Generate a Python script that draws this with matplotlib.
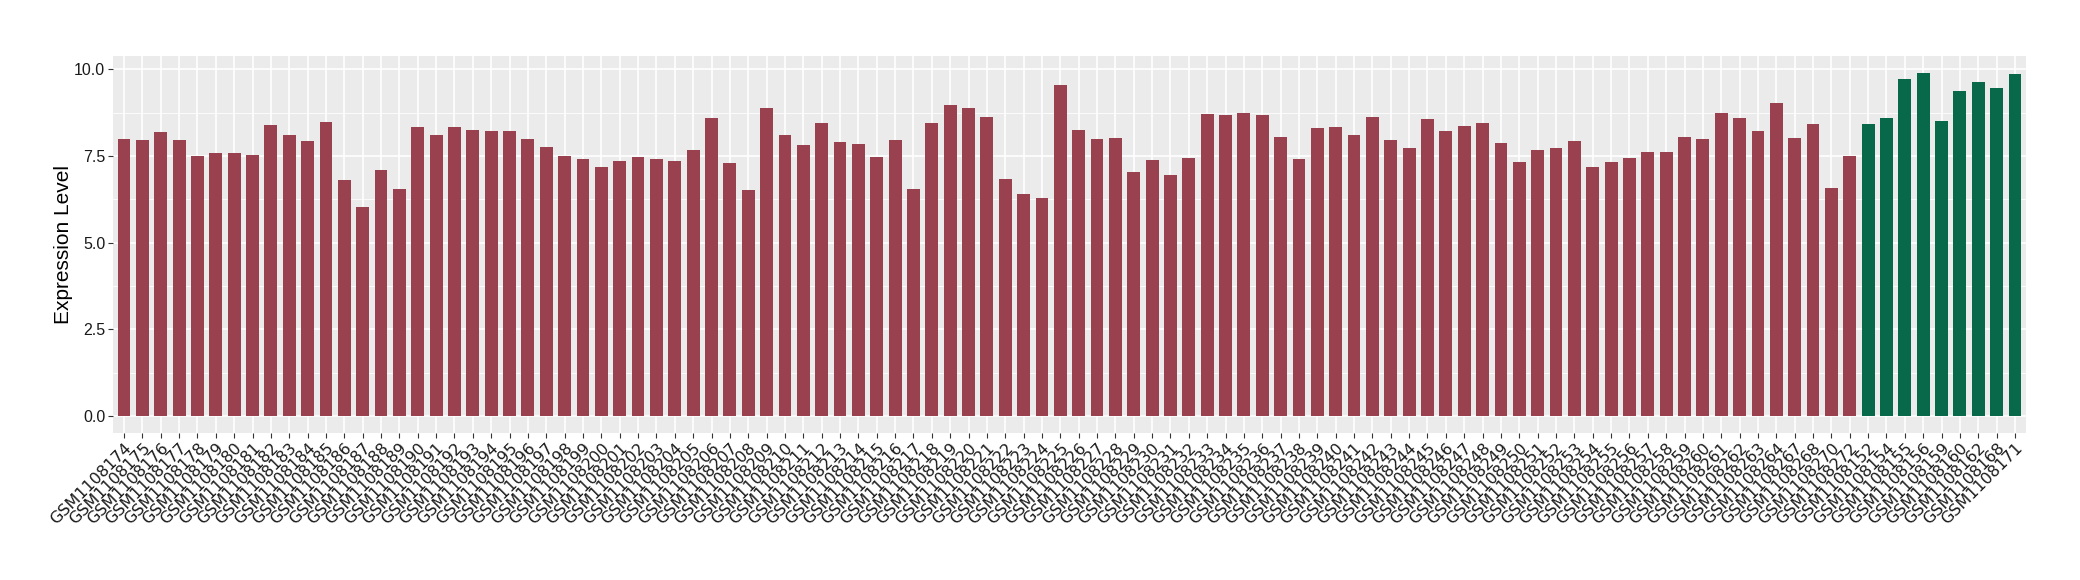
import numpy as np
import matplotlib
matplotlib.use("Agg")
import matplotlib.pyplot as plt

# sample names (normal group in red, tumour group in green)
red_samples = ["GSM1108%d" % n for n in range(174, 265)] + \
    ["GSM1108267", "GSM1108268", "GSM1108270", "GSM1108272"]
green_samples = ["GSM1108152", "GSM1108154", "GSM1108155", "GSM1108156",
                 "GSM1108159", "GSM1108160", "GSM1108162", "GSM1108168",
                 "GSM1108171"]

red_values = [
    7.99, 7.96, 8.19, 7.96, 7.50, 7.59, 7.59, 7.53, 8.39, 8.11,
    7.93, 8.48, 6.81, 6.03, 7.10, 6.55, 8.34, 8.11, 8.34, 8.25,
    8.22, 8.22, 7.99, 7.76, 7.50, 7.41, 7.18, 7.36, 7.47, 7.41,
    7.36, 7.67, 8.60, 7.30, 6.52, 8.88, 8.11, 7.82, 8.45, 7.90,
    7.85, 7.47, 7.96, 6.55, 8.45, 8.97, 8.88, 8.62, 6.84, 6.40,
    6.29, 9.55, 8.25, 7.99, 8.02, 7.04, 7.38, 6.95, 7.44, 8.71,
    8.68, 8.74, 8.68, 8.05, 7.41, 8.31, 8.34, 8.10, 8.63, 7.96,
    7.74, 8.55, 8.21, 8.36, 8.45, 7.88, 7.33, 7.66, 7.74, 7.94,
    7.18, 7.33, 7.44, 7.62, 7.60, 8.05, 8.00, 8.74, 8.59, 8.21,
    9.03, 8.02, 8.43, 6.56, 7.50,
]
green_values = [8.43, 8.59, 9.73, 9.88, 8.51, 9.37, 9.64, 9.47, 9.85]

red_color = "#9A4150"
green_color = "#08694A"

labels = red_samples + green_samples
values = red_values + green_values
colors = [red_color] * len(red_values) + [green_color] * len(green_values)
x = np.arange(len(labels))

fig = plt.figure(figsize=(20.8, 5.8), dpi=100)
ax = fig.add_axes([113 / 2080, 1 - 433 / 580, (2026 - 113) / 2080, (433 - 56) / 580])

ax.set_facecolor("#EBEBEB")
for s in ax.spines.values():
    s.set_visible(False)

# ggplot style grid
for yv in [1.25, 3.75, 6.25, 8.75]:
    ax.axhline(yv, color="white", lw=0.6, zorder=0)
for yv in [0, 2.5, 5, 7.5, 10]:
    ax.axhline(yv, color="white", lw=1.2, zorder=0)
for xv in x:
    ax.axvline(xv, color="white", lw=1.2, zorder=0)

ax.bar(x, values, width=0.7, color=colors, zorder=2)

ax.set_xlim(-0.6, len(labels) - 1 + 0.6)
ax.set_ylim(-0.49, 10.38)
ax.set_yticks([0, 2.5, 5, 7.5, 10])
ax.set_yticklabels(["0.0", "2.5", "5.0", "7.5", "10.0"],
                   fontsize=11.5, family="Liberation Sans", color="#1A1A1A")
ax.set_xticks(x)
ax.set_xticklabels(labels, rotation=45, ha="right", va="top",
                   rotation_mode="anchor", fontsize=11.5, color="#1A1A1A")
ax.tick_params(axis="both", length=3.5, width=0.8, color="#333333", pad=2)
ax.grid(False)

ax.set_ylabel("Expression Level", fontsize=15, family="Liberation Sans",
              labelpad=1)

fig.savefig("out.png", dpi=100)
